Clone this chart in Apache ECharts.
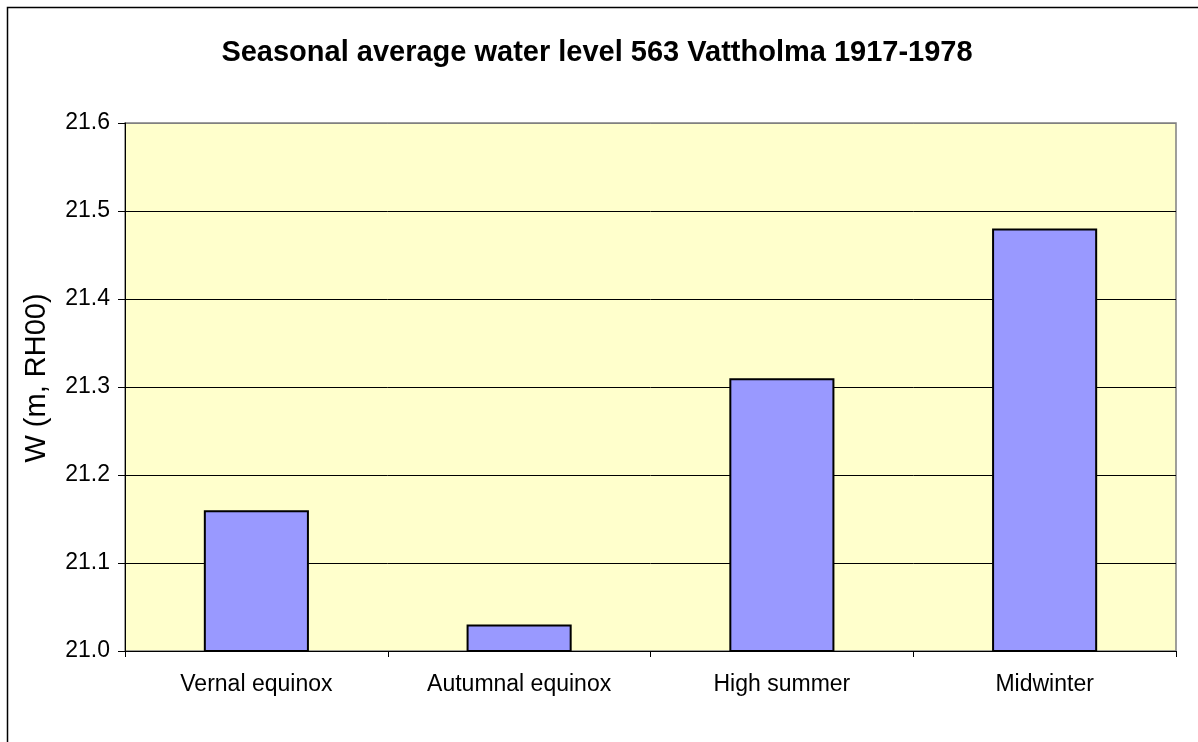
<!DOCTYPE html>
<html>
<head>
<meta charset="utf-8">
<script src="https://cdn.jsdelivr.net/npm/echarts@6/dist/echarts.min.js"></script>
<style>
  html, body { margin: 0; padding: 0; background: #fff; }
  #chart { width: 1198px; height: 742px; }
</style>
</head>
<body>
<div id="chart"></div>
<script>
// Seasonal average water level, station 563 Vattholma
const categories = ['Vernal equinox', 'Autumnal equinox', 'High summer', 'Midwinter'];
const waterLevel = [21.16, 21.03, 21.31, 21.48];
const yMin = 21.0;
const yMax = 21.6;
const yStep = 0.1;

const chart = echarts.init(document.getElementById('chart'), null, { renderer: 'canvas' });
const font = 'Arial, "Liberation Sans", Helvetica, sans-serif';

chart.setOption({
  animation: false,
  backgroundColor: '#ffffff',
  graphic: [{
    type: 'rect',
    shape: { x: 7.5, y: 7.5, width: 1200, height: 760 },
    style: { fill: 'none', stroke: '#000', lineWidth: 1.5 },
    silent: true
  }],
  title: {
    text: 'Seasonal average water level 563 Vattholma 1917-1978',
    left: 592, top: 33, textAlign: 'center',
    textStyle: { fontFamily: font, fontSize: 29, fontWeight: 'bold', color: '#000' }
  },
  grid: {
    left: 125, top: 123, right: 22, bottom: 91,
    show: true, backgroundColor: '#ffffcc', borderColor: '#808080', borderWidth: 1.5
  },
  xAxis: {
    type: 'category',
    data: categories,
    axisLine: { lineStyle: { color: '#000', width: 1 } },
    axisTick: { show: true, inside: false, length: 6, alignWithLabel: false, lineStyle: { color: '#000' } },
    axisLabel: { fontFamily: font, fontSize: 23, color: '#000', margin: 22 },
    splitLine: { show: false }
  },
  yAxis: {
    type: 'value',
    min: yMin, max: yMax, interval: yStep,
    name: 'W (m, RH00)',
    nameLocation: 'middle',
    nameGap: 74,
    nameTextStyle: { fontFamily: font, fontSize: 29, color: '#000', padding: [0, 0, 0, 18] },
    axisLine: { show: true, lineStyle: { color: '#000', width: 1 } },
    axisTick: { show: true, inside: false, length: 7, lineStyle: { color: '#000' } },
    axisLabel: { fontFamily: font, fontSize: 23, color: '#000', margin: 15,
      formatter: v => v.toFixed(1) },
    splitLine: { show: true, lineStyle: {
      color: ['#000', '#000', '#000', '#000', '#000', '#000', '#808080'], width: 1 } }
  },
  series: [{
    type: 'bar',
    data: waterLevel,
    barWidth: '40%',
    itemStyle: { color: '#9999ff', borderColor: '#000', borderWidth: 2 }
  }]
});
</script>
</body>
</html>
